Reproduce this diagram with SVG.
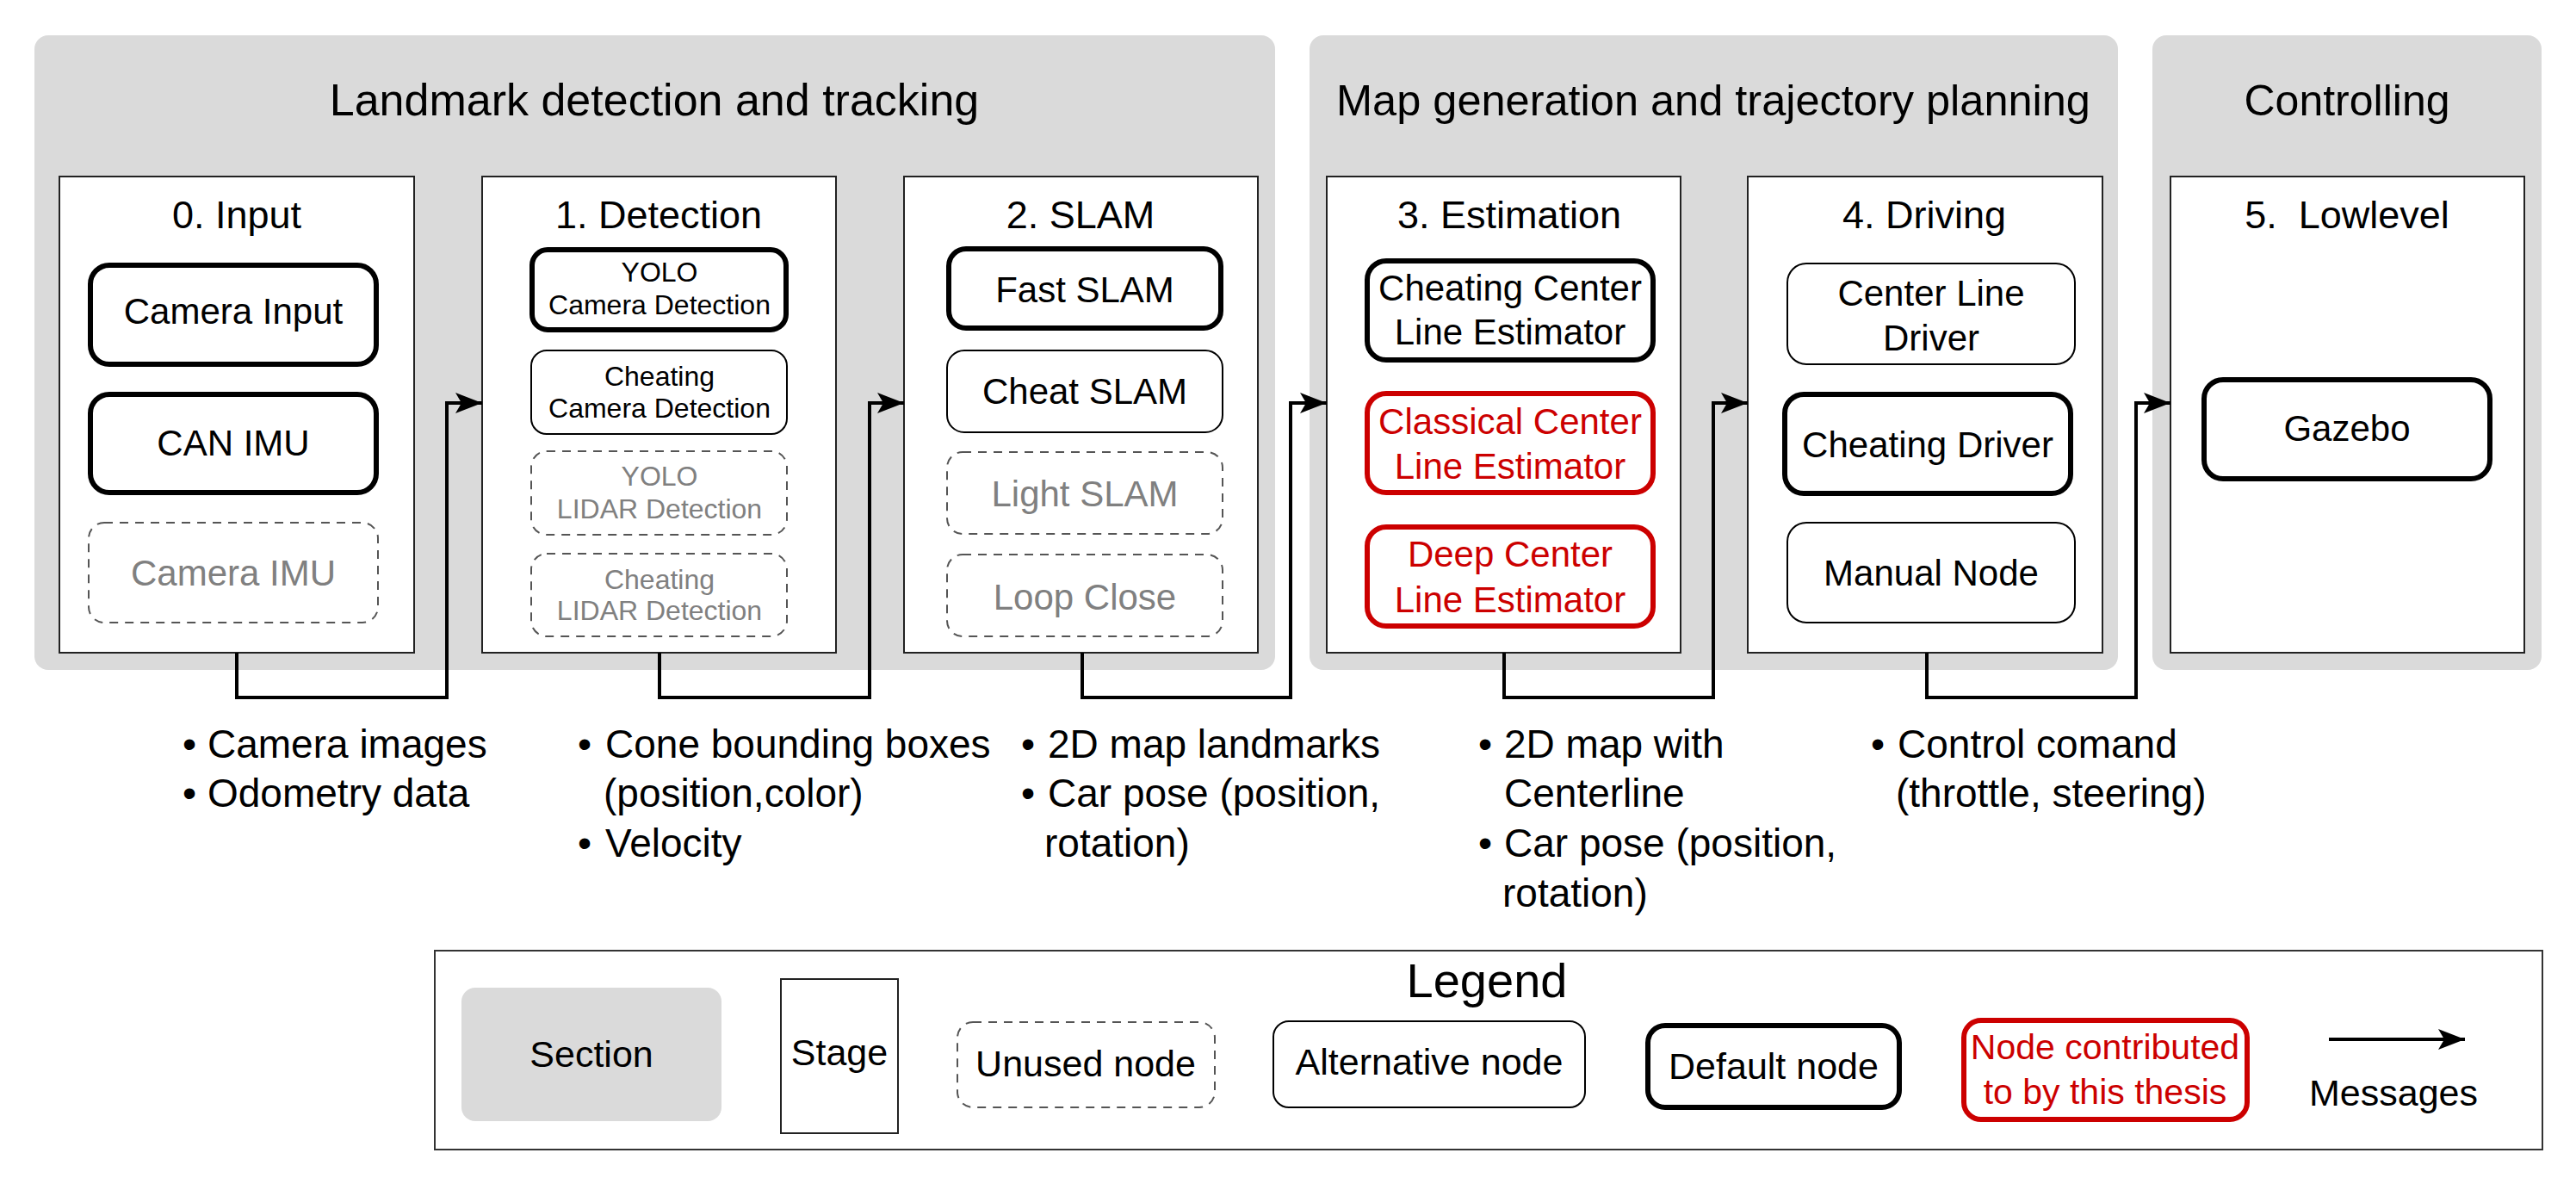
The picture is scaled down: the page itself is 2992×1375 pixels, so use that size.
<svg xmlns="http://www.w3.org/2000/svg" width="2992" height="1375" viewBox="0 0 2992 1375">
<style>
text{font-family:"Liberation Sans",Arial,Helvetica,sans-serif;fill:#000}
.sec{fill:#dadada;stroke:none}
.stage{fill:#fff;stroke:#222;stroke-width:2}
.thick{fill:#fff;stroke:#000;stroke-width:6}
.thin{fill:#fff;stroke:#000;stroke-width:2}
.dash{fill:#fff;stroke:#555;stroke-width:2;stroke-dasharray:10 8}
.red{fill:#fff;stroke:#cc0000;stroke-width:6}
.st{font-size:52px;text-anchor:middle}
.sg{font-size:45px;text-anchor:middle}
.n{font-size:42px;text-anchor:middle}
.s{font-size:32px;text-anchor:middle}
.g{fill:#808080}
.r{fill:#cc0000}
.b{font-size:46px}
.lg{font-size:43px;text-anchor:middle}
.conn{fill:none;stroke:#000;stroke-width:4}
</style>
<defs>
<marker id="arr" markerUnits="userSpaceOnUse" markerWidth="32" markerHeight="26" viewBox="0 0 32 26" refX="31" refY="13" orient="auto">
<path d="M0,1 L31,13 L0,25 L7,13 Z" fill="#000"/>
</marker>
</defs>

<g id="section-landmark">
<rect class="sec" x="40" y="41" width="1441" height="737" rx="16"/>
<text class="st" x="760" y="134">Landmark detection and tracking</text>
</g>
<g id="section-map">
<rect class="sec" x="1521" y="41" width="939" height="737" rx="16"/>
<text class="st" x="1990" y="134" style="font-size:50.5px">Map generation and trajectory planning</text>
</g>
<g id="section-controlling">
<rect class="sec" x="2500" y="41" width="452" height="737" rx="16"/>
<text class="st" x="2726" y="134" style="font-size:50px">Controlling</text>
</g>

<g id="stage-input">
<rect class="stage" x="69" y="205" width="412" height="553"/>
<text class="sg" x="275" y="265">0. Input</text>
</g>
<g id="stage-detection">
<rect class="stage" x="560" y="205" width="411" height="553"/>
<text class="sg" x="765" y="265">1. Detection</text>
</g>
<g id="stage-slam">
<rect class="stage" x="1050" y="205" width="411" height="553"/>
<text class="sg" x="1255" y="265">2. SLAM</text>
</g>
<g id="stage-estimation">
<rect class="stage" x="1541" y="205" width="411" height="553"/>
<text class="sg" x="1753" y="265">3. Estimation</text>
</g>
<g id="stage-driving">
<rect class="stage" x="2030" y="205" width="412" height="553"/>
<text class="sg" x="2235" y="265">4. Driving</text>
</g>
<g id="stage-lowlevel">
<rect class="stage" x="2521" y="205" width="411" height="553"/>
<text class="sg" x="2726" y="265" style="white-space:pre">5.  Lowlevel</text>
</g>

<g id="node-camera-input">
<rect class="thick" x="105" y="308" width="332" height="115" rx="22"/>
<text class="n" x="271" y="376">Camera Input</text>
</g>
<g id="node-can-imu">
<rect class="thick" x="105" y="458" width="332" height="114" rx="22"/>
<text class="n" x="271" y="529">CAN IMU</text>
</g>
<g id="node-camera-imu">
<rect class="dash" x="103" y="607" width="336" height="116" rx="18"/>
<text class="n g" x="271" y="680">Camera IMU</text>
</g>

<g id="node-yolo-camera">
<rect class="thick" x="618" y="290" width="295" height="93" rx="18"/>
<text class="s" x="766" y="327">YOLO</text>
<text class="s" x="766" y="365">Camera Detection</text>
</g>
<g id="node-cheating-camera">
<rect class="thin" x="617" y="407" width="297" height="97" rx="18"/>
<text class="s" x="766" y="448">Cheating</text>
<text class="s" x="766" y="485">Camera Detection</text>
</g>
<g id="node-yolo-lidar">
<rect class="dash" x="617" y="524" width="297" height="97" rx="18"/>
<text class="s g" x="766" y="564">YOLO</text>
<text class="s g" x="766" y="602">LIDAR Detection</text>
</g>
<g id="node-cheating-lidar">
<rect class="dash" x="617" y="643" width="297" height="96" rx="18"/>
<text class="s g" x="766" y="684">Cheating</text>
<text class="s g" x="766" y="720">LIDAR Detection</text>
</g>

<g id="node-fast-slam">
<rect class="thick" x="1102" y="289" width="316" height="92" rx="20"/>
<text class="n" x="1260" y="351">Fast SLAM</text>
</g>
<g id="node-cheat-slam">
<rect class="thin" x="1100" y="407" width="320" height="95" rx="20"/>
<text class="n" x="1260" y="469">Cheat SLAM</text>
</g>
<g id="node-light-slam">
<rect class="dash" x="1100" y="525" width="320" height="95" rx="18"/>
<text class="n g" x="1260" y="588">Light SLAM</text>
</g>
<g id="node-loop-close">
<rect class="dash" x="1100" y="644" width="320" height="95" rx="18"/>
<text class="n g" x="1260" y="708">Loop Close</text>
</g>

<g id="node-cheating-centerline">
<rect class="thick" x="1588" y="303" width="332" height="115" rx="22"/>
<text class="n" x="1754" y="349">Cheating Center</text>
<text class="n" x="1754" y="400">Line Estimator</text>
</g>
<g id="node-classical-centerline">
<rect class="red" x="1588" y="457" width="332" height="115" rx="22"/>
<text class="n r" x="1754" y="504">Classical Center</text>
<text class="n r" x="1754" y="556">Line Estimator</text>
</g>
<g id="node-deep-centerline">
<rect class="red" x="1588" y="612" width="332" height="115" rx="22"/>
<text class="n r" x="1754" y="658">Deep Center</text>
<text class="n r" x="1754" y="711">Line Estimator</text>
</g>

<g id="node-centerline-driver">
<rect class="thin" x="2076" y="306" width="334" height="117" rx="22"/>
<text class="n" x="2243" y="355">Center Line</text>
<text class="n" x="2243" y="407">Driver</text>
</g>
<g id="node-cheating-driver">
<rect class="thick" x="2073" y="458" width="332" height="115" rx="22"/>
<text class="n" x="2239" y="531">Cheating Driver</text>
</g>
<g id="node-manual">
<rect class="thin" x="2076" y="607" width="334" height="116" rx="22"/>
<text class="n" x="2243" y="680">Manual Node</text>
</g>

<g id="node-gazebo">
<rect class="thick" x="2560" y="441" width="332" height="115" rx="22"/>
<text class="n" x="2726" y="512">Gazebo</text>
</g>

<g id="connectors">
<path class="conn" d="M275,758 V810 H519 V468 H560" marker-end="url(#arr)"/>
<path class="conn" d="M766,758 V810 H1010 V468 H1050" marker-end="url(#arr)"/>
<path class="conn" d="M1257,758 V810 H1499 V468 H1541" marker-end="url(#arr)"/>
<path class="conn" d="M1747,758 V810 H1990 V468 H2030" marker-end="url(#arr)"/>
<path class="conn" d="M2238,758 V810 H2481 V468 H2521" marker-end="url(#arr)"/>
</g>

<g id="messages">
<text class="b" x="212" y="880">•</text><text class="b" x="241" y="880">Camera images</text>
<text class="b" x="212" y="937">•</text><text class="b" x="241" y="937">Odometry data</text>

<text class="b" x="671" y="880">•</text><text class="b" x="703" y="880">Cone bounding boxes</text>
<text class="b" x="701" y="937">(position,color)</text>
<text class="b" x="671" y="995">•</text><text class="b" x="703" y="995">Velocity</text>

<text class="b" x="1186" y="880">•</text><text class="b" x="1217" y="880">2D map landmarks</text>
<text class="b" x="1186" y="937">•</text><text class="b" x="1217" y="937">Car pose (position,</text>
<text class="b" x="1213" y="995">rotation)</text>

<text class="b" x="1717" y="880">•</text><text class="b" x="1747" y="880">2D map with</text>
<text class="b" x="1747" y="937">Centerline</text>
<text class="b" x="1717" y="995">•</text><text class="b" x="1747" y="995">Car pose (position,</text>
<text class="b" x="1745" y="1053">rotation)</text>

<text class="b" x="2173" y="880">•</text><text class="b" x="2204" y="880">Control comand</text>
<text class="b" x="2202" y="937">(throttle, steering)</text>
</g>

<g id="legend">
<rect x="505" y="1104" width="2448" height="231" fill="#fff" stroke="#333" stroke-width="2"/>
<text x="1727" y="1158" style="font-size:56px;text-anchor:middle">Legend</text>
<rect class="sec" x="536" y="1147" width="302" height="155" rx="16"/>
<text class="lg" x="687" y="1239">Section</text>
<rect class="stage" x="907" y="1137" width="136" height="179"/>
<text class="lg" x="975" y="1237">Stage</text>
<rect class="dash" x="1112" y="1187" width="299" height="99" rx="18"/>
<text class="lg" x="1261" y="1250">Unused node</text>
<rect class="thin" x="1479" y="1186" width="362" height="100" rx="18"/>
<text class="lg" x="1660" y="1248">Alternative node</text>
<rect class="thick" x="1914" y="1191" width="292" height="95" rx="20"/>
<text class="lg" x="2060" y="1253">Default node</text>
<rect class="red" x="2281" y="1185" width="329" height="115" rx="20"/>
<text class="n r" x="2445" y="1230" style="font-size:41px">Node contributed</text>
<text class="n r" x="2445" y="1282" style="font-size:41px">to by this thesis</text>
<path class="conn" d="M2705,1207 H2863" marker-end="url(#arr)"/>
<text class="lg" x="2780" y="1284">Messages</text>
</g>
</svg>
